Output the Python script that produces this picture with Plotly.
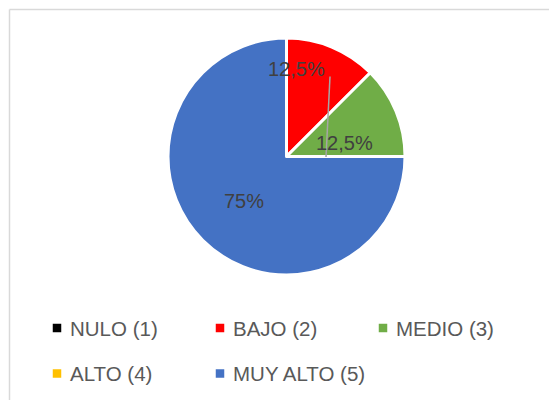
import plotly.graph_objects as go

# Category labels and their shares (percent)
categories = ["NULO (1)", "BAJO (2)", "MEDIO (3)", "ALTO (4)", "MUY ALTO (5)"]
shares = [0, 12.5, 12.5, 0, 75]

colors = ["#000000", "#FF0000", "#70AD47", "#FFC000", "#4472C4"]

W, H = 549, 400
# pie placement in pixels
CX, CY, R = 286.5, 156.5, 116.5
RD = R + 2  # domain half-size (plotly trims the radius slightly)

# key layout (pixels): swatch column centres, row centres, swatch-to-text gap
KEY_COLS = [57, 220, 383]
KEY_ROWS = [328, 373.5]
KEY_GAP = 11


def fmt(v):
    s = f"{v:g}".replace(".", ",")
    return s + "%"


fig = go.Figure()
fig.add_trace(go.Pie(
    labels=categories,
    values=shares,
    sort=False,
    direction="clockwise",
    rotation=0,
    marker=dict(colors=colors, line=dict(color="white", width=3)),
    textinfo="none",
    hoverinfo="label+percent",
    showlegend=False,
    domain=dict(x=[(CX - RD) / W, (CX + RD) / W], y=[1 - (CY + RD) / H, 1 - (CY - RD) / H]),
))

leg_font = dict(family="Liberation Sans, Arial, sans-serif", size=20.5, color="#595959")
annotations = []

# key: swatch + label per category, three per row
for i, (cat, col) in enumerate(zip(categories, colors)):
    kx = KEY_COLS[i % 3]
    ky = KEY_ROWS[i // 3]
    fig.add_trace(go.Scatter(
        x=[kx], y=[ky], mode="markers", name=cat, showlegend=False,
        marker=dict(symbol="square", size=8.5, color=col, line=dict(width=0)),
        hoverinfo="name",
    ))
    annotations.append(dict(
        x=kx + KEY_GAP, y=ky, xref="x", yref="y", text=cat, showarrow=False,
        font=leg_font, xanchor="left", yanchor="middle",
    ))

# value labels placed within the non-empty slices (pixel offsets from the pie centre)
label_pos = {1: (10, -88), 2: (58, -14), 4: (-43, 44)}
for i, (dx, dy) in label_pos.items():
    annotations.append(dict(
        x=CX + dx, y=CY + dy, xref="x", yref="y",
        text=fmt(shares[i]), showarrow=False,
        font=dict(family="Liberation Sans, Arial, sans-serif", size=20, color="#404040"),
        xanchor="center", yanchor="middle",
    ))

shapes = [
    # chart frame (top and left edges)
    dict(type="line", xref="x", yref="y", x0=9.5, x1=W, y0=9.5, y1=9.5,
         line=dict(color="#D9D9D9", width=1.5)),
    dict(type="line", xref="x", yref="y", x0=9.5, x1=9.5, y0=9.5, y1=H,
         line=dict(color="#D9D9D9", width=1.5)),
    # leader line
    dict(type="line", xref="x", yref="y",
         x0=CX + 43.5, y0=CY - 80, x1=CX + 39.5, y1=CY + 0.5,
         line=dict(color="#A6A6A6", width=1.5)),
]

fig.update_layout(
    width=W, height=H,
    margin=dict(l=0, r=0, t=0, b=0),
    paper_bgcolor="white", plot_bgcolor="rgba(0,0,0,0)",
    # pixel-space axes used to lay out the key and labels
    xaxis=dict(visible=False, range=[0, W], domain=[0, 1], fixedrange=True),
    yaxis=dict(visible=False, range=[H, 0], domain=[0, 1], fixedrange=True),
    annotations=annotations,
    shapes=shapes,
    showlegend=False,
)

fig.write_html("out.html")
